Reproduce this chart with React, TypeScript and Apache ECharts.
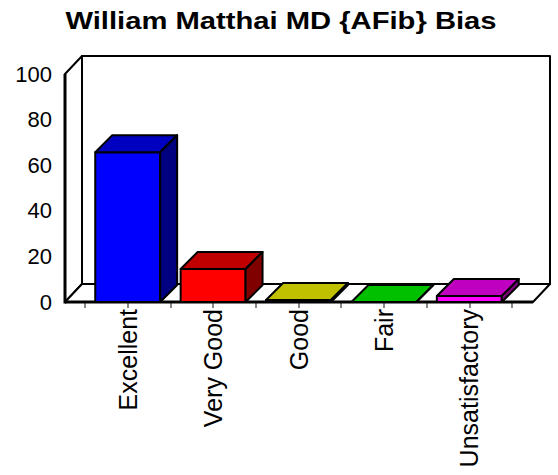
import React, { useEffect, useRef } from "react";
import * as echarts from "echarts";

const categories = ["Excellent", "Very Good", "Good", "Fair", "Unsatisfactory"];
const values = [65.7, 14.5, 0.9, 0, 2.6];
const frontColors = ["#0000FF", "#FF0000", "#FFFF00", "#00FF00", "#FF00FF"];
const topColors = ["#0000C0", "#C00000", "#C0C000", "#00C000", "#C000C0"];
const sideColors = ["#000080", "#800000", "#808000", "#008000", "#800080"];
const yMin = 0;
const yMax = 100;
const yInterval = 20;
const titleText = "William Matthai MD {AFib} Bias";

const FONT = "'Liberation Sans', Arial, sans-serif";

export default function App() {
  const ref = useRef<HTMLDivElement>(null);
  useEffect(() => {
    if (!ref.current) return;
    const chart = echarts.init(ref.current, null, { renderer: "svg" });
    const xMin = -0.5;
    const xMax = categories.length - 0.5;
    const wallDx = 17;
    const wallDy = 18;
    const barDx = 17;
    const barDy = 17;
    const leftExt = 20;
    const rightExt = 21;

    const option: any = {
      animation: false,
      backgroundColor: "#ffffff",
      graphic: [
        {
          type: "text",
          x: 281,
          y: 21,
          scaleX: 1.27,
          scaleY: 1,
          style: {
            text: titleText,
            fontFamily: FONT,
            fontSize: 23,
            fontWeight: "bold",
            fill: "#000",
            textAlign: "center",
            textVerticalAlign: "middle",
          },
        },
      ],
      grid: { left: 85, right: 46, top: 74, bottom: 173 },
      xAxis: {
        type: "value",
        min: xMin,
        max: xMax,
        interval: 0.5,
        axisLine: { show: false },
        axisTick: { show: true, length: 6, lineStyle: { color: "#888", width: 2 } },
        splitLine: { show: false },
        axisLabel: {
          rotate: 90,
          margin: 7,
          fontSize: 25,
          fontFamily: FONT,
          color: "#000",
          showMinLabel: true,
          showMaxLabel: true,
          formatter: (v: number) => (Number.isInteger(v) && v >= 0 && v < categories.length ? categories[v] : ""),
        },
      },
      yAxis: {
        type: "value",
        min: yMin,
        max: yMax,
        interval: yInterval,
        offset: leftExt,
        axisLine: { show: false },
        axisTick: { show: true, length: 11, lineStyle: { color: "#888", width: 2 } },
        minorTick: { show: true, splitNumber: 2, length: 6, lineStyle: { color: "#888", width: 2 } },
        splitLine: { show: false },
        axisLabel: { margin: 13, fontSize: 22, fontFamily: FONT, color: "#000" },
      },
      series: [
        {
          type: "custom",
          z: 1,
          data: [[xMin, yMin]],
          encode: { x: 0, y: 1 },
          renderItem: (params: any, api: any) => {
            const p0 = api.coord([xMin, yMin]);
            const p1 = api.coord([xMax, yMax]);
            const xl = p0[0] - leftExt;
            const xr = p1[0] + rightExt;
            const yb = p0[1];
            const yt = p1[1];
            const st = { fill: "#fff", stroke: "#000", lineWidth: 2, lineJoin: "round" };
            return {
              type: "group",
              children: [
                {
                  type: "rect",
                  shape: { x: xl + wallDx, y: yt - wallDy, width: xr - xl, height: yb - yt },
                  style: st,
                },
                {
                  type: "polygon",
                  shape: { points: [[xl, yb], [xl, yt], [xl + wallDx, yt - wallDy], [xl + wallDx, yb - wallDy]] },
                  style: st,
                },
                {
                  type: "polygon",
                  shape: { points: [[xl, yb], [xr, yb], [xr + wallDx, yb - wallDy], [xl + wallDx, yb - wallDy]] },
                  style: st,
                },
                {
                  type: "line",
                  shape: { x1: xl, y1: yb, x2: xr, y2: yb },
                  style: { stroke: "#000", lineWidth: 3 },
                },
                {
                  type: "line",
                  shape: { x1: xl, y1: yb + 1.5, x2: xl, y2: yt },
                  style: { stroke: "#000", lineWidth: 3 },
                },
              ],
            };
          },
        },
        {
          type: "custom",
          z: 3,
          data: values.map((v, i) => [i, v]),
          encode: { x: 0, y: 1 },
          renderItem: (params: any, api: any) => {
            const i = api.value(0);
            const v = api.value(1);
            const base = api.coord([i, 0]);
            const top = api.coord([i, v]);
            const w = api.size([1, 0])[0] * 0.76;
            const x0 = base[0] - w / 2;
            const x1 = base[0] + w / 2;
            const yb = base[1];
            const yt = top[1];
            const idx = params.dataIndex;
            const stroke = { stroke: "#000", lineWidth: 2, lineJoin: "round" };
            return {
              type: "group",
              children: [
                {
                  type: "rect",
                  shape: { x: x0, y: yt, width: w, height: yb - yt },
                  style: { fill: frontColors[idx], ...stroke },
                },
                {
                  type: "polygon",
                  shape: { points: [[x0, yt], [x0 + barDx, yt - barDy], [x1 + barDx, yt - barDy], [x1, yt]] },
                  style: { fill: topColors[idx], ...stroke },
                },
                {
                  type: "polygon",
                  shape: { points: [[x1, yt], [x1 + barDx, yt - barDy], [x1 + barDx, yb - barDy], [x1, yb]] },
                  style: { fill: sideColors[idx], ...stroke },
                },
              ],
            };
          },
        },
      ],
    };
    chart.setOption(option);
    return () => chart.dispose();
  }, []);
  return (
    <div
      ref={ref}
      style={{ position: "absolute", left: 0, top: 0, width: 558, height: 475 }}
    />
  );
}
